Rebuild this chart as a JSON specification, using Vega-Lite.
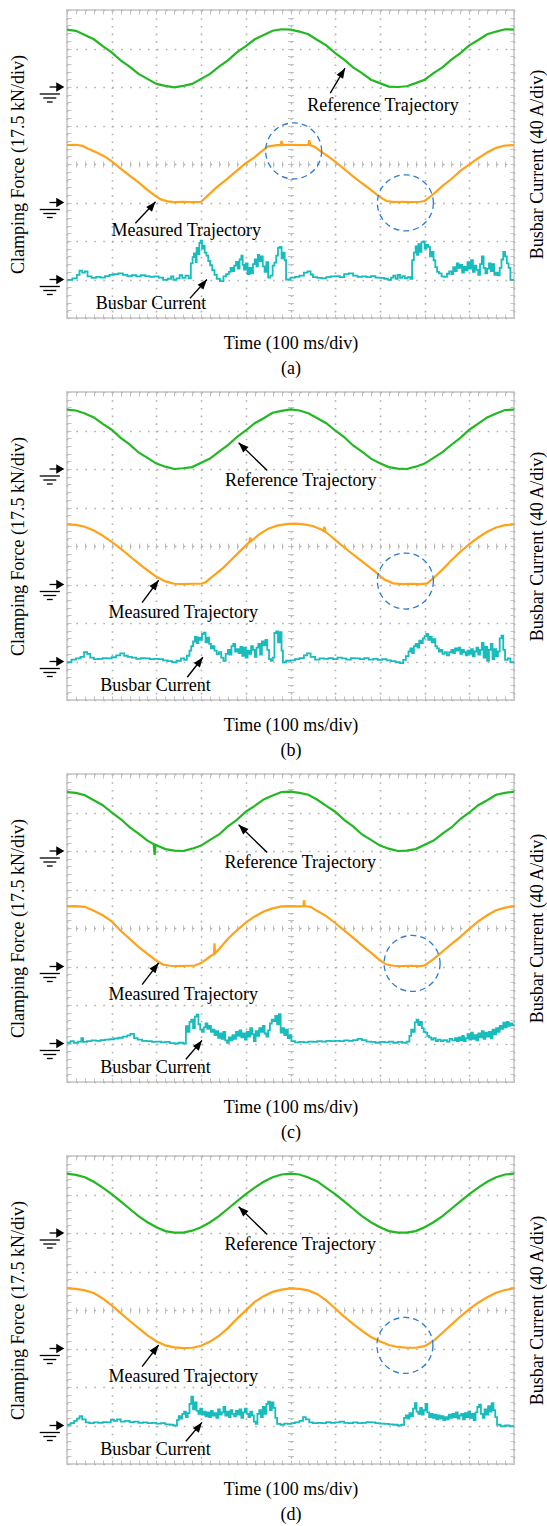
{
  "$schema": "https://vega.github.io/schema/vega-lite/v6.json",
  "padding": {"left": 8, "top": 9, "right": 0, "bottom": 0},
  "spacing": 74,
  "bounds": "flush",
  "config": {
    "font": "Liberation Serif",
    "view": {"stroke": "#d2d2d2", "strokeWidth": 2},
    "axis": {"minExtent": 0, "labels": false, "ticks": false, "domain": false, "titleFont": "Liberation Serif", "titleFontSize": 18, "titleFontWeight": "normal", "titleColor": "#000000"},
    "axisBottom": {"titleFont": "Liberation Serif", "titleFontWeight": "normal", "gridColor": "#b0b0b0", "gridWidth": 1.6, "gridDash": [1.6, 6.1], "titlePadding": 16, "titleLineHeight": 25},
    "axisLeft": {"titleFont": "Liberation Serif", "titleFontWeight": "normal", "gridColor": "#b0b0b0", "gridWidth": 1.6, "gridDash": [1.6, 7.34], "titlePadding": 40},
    "axisTop": {"gridColor": "#c2c2c2", "gridWidth": 1, "gridDash": [4, 147, 6, 147, 4]},
    "axisRight": {"titleFont": "Liberation Serif", "titleFontWeight": "normal", "gridColor": "#c2c2c2", "gridWidth": 1, "gridDash": [4, 216.5, 6, 216.5, 4], "titleAngle": -90, "titleBaseline": "top", "titlePadding": 14}
  },
  "datasets": {
    "gnd": [{"trace": "Reference Trajectory", "ground": 6}, {"trace": "Measured Trajectory", "ground": 3}, {"trace": "Busbar Current", "ground": 1}],
    "circ": [{"p": "a", "x": 5.07, "y": 4.34}, {"p": "a", "x": 7.57, "y": 2.99}, {"p": "b", "x": 7.57, "y": 3.09}, {"p": "c", "x": 7.72, "y": 3.08}, {"p": "d", "x": 7.56, "y": 3.08}],
    "ann": [
      {"p": "a", "label": "Reference Trajectory", "lx": 7.07, "ly": 5.38, "x": 5.89, "y": 5.84, "x2": 6.22, "y2": 6.49, "dir": "nne"},
      {"p": "a", "label": "Measured Trajectory", "lx": 2.67, "ly": 2.13, "x": 1.53, "y": 2.46, "x2": 1.98, "y2": 3.02, "dir": "ne"},
      {"p": "a", "label": "Busbar Current", "lx": 1.88, "ly": 0.23, "x": 2.75, "y": 0.51, "x2": 3.13, "y2": 1.0, "dir": "ne"},
      {"p": "b", "label": "Reference Trajectory", "lx": 5.23, "ly": 5.56, "x": 4.48, "y": 5.96, "x2": 3.84, "y2": 6.68, "dir": "nw"},
      {"p": "b", "label": "Measured Trajectory", "lx": 2.6, "ly": 2.14, "x": 1.68, "y": 2.53, "x2": 2.05, "y2": 3.11, "dir": "ne"},
      {"p": "b", "label": "Busbar Current", "lx": 1.98, "ly": 0.24, "x": 2.69, "y": 0.59, "x2": 3.04, "y2": 1.11, "dir": "ne"},
      {"p": "c", "label": "Reference Trajectory", "lx": 5.22, "ly": 5.56, "x": 4.48, "y": 5.96, "x2": 3.84, "y2": 6.68, "dir": "nw"},
      {"p": "c", "label": "Measured Trajectory", "lx": 2.6, "ly": 2.14, "x": 1.68, "y": 2.53, "x2": 2.05, "y2": 3.09, "dir": "ne"},
      {"p": "c", "label": "Busbar Current", "lx": 1.98, "ly": 0.24, "x": 2.66, "y": 0.59, "x2": 3.02, "y2": 1.08, "dir": "ne"},
      {"p": "d", "label": "Reference Trajectory", "lx": 5.22, "ly": 5.56, "x": 4.48, "y": 5.96, "x2": 3.84, "y2": 6.68, "dir": "nw"},
      {"p": "d", "label": "Measured Trajectory", "lx": 2.6, "ly": 2.14, "x": 1.68, "y": 2.53, "x2": 2.05, "y2": 3.09, "dir": "ne"},
      {"p": "d", "label": "Busbar Current", "lx": 1.98, "ly": 0.24, "x": 2.66, "y": 0.59, "x2": 3.02, "y2": 1.08, "dir": "ne"}
    ],
    "green_a": [{"x":0,"y":7.49},{"x":0.2,"y":7.46},{"x":0.4,"y":7.35},{"x":0.6,"y":7.24},{"x":0.8,"y":7.06},{"x":1.0,"y":6.90},{"x":1.2,"y":6.69},{"x":1.4,"y":6.53},{"x":1.6,"y":6.34},{"x":1.8,"y":6.21},{"x":2.0,"y":6.08},{"x":2.2,"y":6.03},{"x":2.4,"y":5.99},{"x":2.6,"y":6.03},{"x":2.8,"y":6.08},{"x":3.0,"y":6.21},{"x":3.2,"y":6.34},{"x":3.4,"y":6.53},{"x":3.6,"y":6.69},{"x":3.8,"y":6.90},{"x":4.0,"y":7.06},{"x":4.2,"y":7.24},{"x":4.4,"y":7.35},{"x":4.6,"y":7.46},{"x":4.8,"y":7.50},{"x":5.0,"y":7.49},{"x":5.2,"y":7.44},{"x":5.4,"y":7.37},{"x":5.6,"y":7.22},{"x":5.8,"y":7.08},{"x":6.0,"y":6.88},{"x":6.2,"y":6.71},{"x":6.4,"y":6.51},{"x":6.6,"y":6.36},{"x":6.8,"y":6.19},{"x":7.0,"y":6.10},{"x":7.2,"y":6.01},{"x":7.4,"y":6.00},{"x":7.6,"y":6.02},{"x":7.8,"y":6.10},{"x":8.0,"y":6.19},{"x":8.2,"y":6.36},{"x":8.4,"y":6.51},{"x":8.6,"y":6.71},{"x":8.8,"y":6.88},{"x":9.0,"y":7.08},{"x":9.2,"y":7.22},{"x":9.4,"y":7.37},{"x":9.6,"y":7.44},{"x":9.8,"y":7.50},{"x":10,"y":7.49}],
    "green_b": [{"x":0,"y":7.54},{"x":0.2,"y":7.52},{"x":0.4,"y":7.44},{"x":0.6,"y":7.34},{"x":0.8,"y":7.17},{"x":1.0,"y":7.02},{"x":1.2,"y":6.81},{"x":1.4,"y":6.64},{"x":1.6,"y":6.43},{"x":1.8,"y":6.29},{"x":2.0,"y":6.14},{"x":2.2,"y":6.06},{"x":2.4,"y":6.00},{"x":2.6,"y":6.02},{"x":2.8,"y":6.05},{"x":3.0,"y":6.16},{"x":3.2,"y":6.27},{"x":3.4,"y":6.45},{"x":3.6,"y":6.62},{"x":3.8,"y":6.83},{"x":4.0,"y":7.00},{"x":4.2,"y":7.19},{"x":4.4,"y":7.32},{"x":4.6,"y":7.46},{"x":4.8,"y":7.51},{"x":5.0,"y":7.55},{"x":5.2,"y":7.52},{"x":5.4,"y":7.45},{"x":5.6,"y":7.32},{"x":5.8,"y":7.19},{"x":6.0,"y":7.00},{"x":6.2,"y":6.83},{"x":6.4,"y":6.61},{"x":6.6,"y":6.45},{"x":6.8,"y":6.27},{"x":7.0,"y":6.15},{"x":7.2,"y":6.05},{"x":7.4,"y":6.01},{"x":7.6,"y":6.00},{"x":7.8,"y":6.06},{"x":8.0,"y":6.14},{"x":8.2,"y":6.29},{"x":8.4,"y":6.44},{"x":8.6,"y":6.63},{"x":8.8,"y":6.81},{"x":9.0,"y":7.02},{"x":9.2,"y":7.18},{"x":9.4,"y":7.34},{"x":9.6,"y":7.44},{"x":9.8,"y":7.53},{"x":10,"y":7.54}],
    "green_c": [{"x":0,"y":7.53},{"x":0.2,"y":7.51},{"x":0.4,"y":7.45},{"x":0.6,"y":7.32},{"x":0.8,"y":7.19},{"x":1.0,"y":7.00},{"x":1.2,"y":6.83},{"x":1.4,"y":6.62},{"x":1.6,"y":6.45},{"x":1.8,"y":6.27},{"x":1.94,"y":6.18},{"x":1.96,"y":5.90},{"x":1.98,"y":6.16},{"x":2.2,"y":6.05},{"x":2.4,"y":6.01},{"x":2.6,"y":6.00},{"x":2.8,"y":6.06},{"x":3.0,"y":6.14},{"x":3.2,"y":6.29},{"x":3.4,"y":6.43},{"x":3.6,"y":6.64},{"x":3.8,"y":6.81},{"x":4.0,"y":7.02},{"x":4.2,"y":7.17},{"x":4.4,"y":7.34},{"x":4.6,"y":7.44},{"x":4.8,"y":7.53},{"x":5.0,"y":7.54},{"x":5.2,"y":7.51},{"x":5.4,"y":7.46},{"x":5.6,"y":7.33},{"x":5.8,"y":7.17},{"x":6.0,"y":7.02},{"x":6.2,"y":6.81},{"x":6.4,"y":6.64},{"x":6.6,"y":6.43},{"x":6.8,"y":6.29},{"x":7.0,"y":6.14},{"x":7.2,"y":6.06},{"x":7.4,"y":6.00},{"x":7.6,"y":6.01},{"x":7.8,"y":6.05},{"x":8.0,"y":6.16},{"x":8.2,"y":6.27},{"x":8.4,"y":6.45},{"x":8.6,"y":6.61},{"x":8.8,"y":6.83},{"x":9.0,"y":7.00},{"x":9.2,"y":7.19},{"x":9.4,"y":7.32},{"x":9.6,"y":7.46},{"x":9.8,"y":7.51},{"x":10,"y":7.54}],
    "green_d": [{"x":0,"y":7.54},{"x":0.2,"y":7.51},{"x":0.4,"y":7.45},{"x":0.6,"y":7.33},{"x":0.8,"y":7.18},{"x":1.0,"y":7.01},{"x":1.2,"y":6.82},{"x":1.4,"y":6.63},{"x":1.6,"y":6.44},{"x":1.8,"y":6.28},{"x":2.0,"y":6.15},{"x":2.2,"y":6.05},{"x":2.4,"y":6.01},{"x":2.6,"y":6.01},{"x":2.8,"y":6.06},{"x":3.0,"y":6.15},{"x":3.2,"y":6.28},{"x":3.4,"y":6.44},{"x":3.6,"y":6.63},{"x":3.8,"y":6.82},{"x":4.0,"y":7.01},{"x":4.2,"y":7.18},{"x":4.4,"y":7.33},{"x":4.6,"y":7.45},{"x":4.8,"y":7.52},{"x":5.0,"y":7.54},{"x":5.2,"y":7.52},{"x":5.4,"y":7.44},{"x":5.6,"y":7.34},{"x":5.8,"y":7.17},{"x":6.0,"y":7.01},{"x":6.2,"y":6.82},{"x":6.4,"y":6.63},{"x":6.6,"y":6.44},{"x":6.8,"y":6.28},{"x":7.0,"y":6.15},{"x":7.2,"y":6.05},{"x":7.4,"y":6.01},{"x":7.6,"y":6.01},{"x":7.8,"y":6.05},{"x":8.0,"y":6.15},{"x":8.2,"y":6.28},{"x":8.4,"y":6.44},{"x":8.6,"y":6.63},{"x":8.8,"y":6.82},{"x":9.0,"y":7.01},{"x":9.2,"y":7.18},{"x":9.4,"y":7.33},{"x":9.6,"y":7.45},{"x":9.8,"y":7.52},{"x":10,"y":7.54}],
    "orange_a": [{"x":0,"y":4.49},{"x":0.2,"y":4.5},{"x":0.35,"y":4.47},{"x":0.5,"y":4.38},{"x":0.7,"y":4.28},{"x":0.85,"y":4.19},{"x":1.0,"y":4.07},{"x":1.2,"y":3.88},{"x":1.4,"y":3.7},{"x":1.6,"y":3.52},{"x":1.8,"y":3.33},{"x":1.95,"y":3.19},{"x":2.1,"y":3.08},{"x":2.25,"y":3.03},{"x":2.4,"y":3.01},{"x":2.6,"y":3.02},{"x":2.8,"y":3.01},{"x":3.0,"y":3.02},{"x":3.15,"y":3.18},{"x":3.35,"y":3.4},{"x":3.55,"y":3.58},{"x":3.8,"y":3.83},{"x":4.0,"y":4.02},{"x":4.2,"y":4.18},{"x":4.35,"y":4.33},{"x":4.5,"y":4.46},{"x":4.7,"y":4.49},{"x":4.78,"y":4.49},{"x":4.8,"y":4.6},{"x":4.82,"y":4.49},{"x":5.0,"y":4.5},{"x":5.2,"y":4.49},{"x":5.4,"y":4.5},{"x":5.42,"y":4.62},{"x":5.44,"y":4.49},{"x":5.55,"y":4.44},{"x":5.7,"y":4.31},{"x":5.85,"y":4.19},{"x":6.0,"y":4.06},{"x":6.2,"y":3.87},{"x":6.4,"y":3.68},{"x":6.6,"y":3.5},{"x":6.8,"y":3.33},{"x":7.0,"y":3.14},{"x":7.15,"y":3.04},{"x":7.3,"y":3.01},{"x":7.5,"y":3.02},{"x":7.7,"y":3.01},{"x":7.9,"y":3.02},{"x":8.0,"y":3.04},{"x":8.2,"y":3.22},{"x":8.4,"y":3.43},{"x":8.6,"y":3.61},{"x":8.8,"y":3.82},{"x":9.0,"y":3.99},{"x":9.2,"y":4.15},{"x":9.4,"y":4.3},{"x":9.6,"y":4.42},{"x":9.8,"y":4.48},{"x":10,"y":4.49}],
    "orange_b": [{"x":0,"y":4.56},{"x":0.2,"y":4.55},{"x":0.4,"y":4.5},{"x":0.6,"y":4.4},{"x":0.8,"y":4.27},{"x":1.0,"y":4.11},{"x":1.2,"y":3.93},{"x":1.4,"y":3.74},{"x":1.6,"y":3.55},{"x":1.8,"y":3.37},{"x":2.0,"y":3.2},{"x":2.2,"y":3.08},{"x":2.4,"y":3.02},{"x":2.6,"y":3.01},{"x":2.8,"y":3.02},{"x":3.0,"y":3.02},{"x":3.1,"y":3.06},{"x":3.3,"y":3.25},{"x":3.5,"y":3.44},{"x":3.7,"y":3.67},{"x":3.9,"y":3.9},{"x":4.08,"y":4.1},{"x":4.1,"y":4.22},{"x":4.12,"y":4.13},{"x":4.3,"y":4.3},{"x":4.5,"y":4.45},{"x":4.7,"y":4.53},{"x":4.9,"y":4.57},{"x":5.1,"y":4.58},{"x":5.3,"y":4.56},{"x":5.5,"y":4.52},{"x":5.7,"y":4.42},{"x":5.74,"y":4.39},{"x":5.76,"y":4.5},{"x":5.78,"y":4.37},{"x":5.9,"y":4.26},{"x":6.1,"y":4.06},{"x":6.3,"y":3.87},{"x":6.5,"y":3.69},{"x":6.7,"y":3.51},{"x":6.9,"y":3.33},{"x":7.1,"y":3.13},{"x":7.3,"y":3.03},{"x":7.5,"y":3.01},{"x":7.7,"y":3.02},{"x":7.9,"y":3.01},{"x":8.06,"y":3.03},{"x":8.2,"y":3.17},{"x":8.4,"y":3.39},{"x":8.6,"y":3.63},{"x":8.8,"y":3.85},{"x":9.0,"y":4.05},{"x":9.2,"y":4.22},{"x":9.4,"y":4.37},{"x":9.6,"y":4.48},{"x":9.8,"y":4.54},{"x":10,"y":4.56}],
    "orange_c": [{"x":0,"y":4.56},{"x":0.2,"y":4.57},{"x":0.4,"y":4.55},{"x":0.6,"y":4.45},{"x":0.8,"y":4.33},{"x":1.0,"y":4.17},{"x":1.2,"y":3.93},{"x":1.4,"y":3.72},{"x":1.6,"y":3.51},{"x":1.8,"y":3.33},{"x":2.0,"y":3.15},{"x":2.15,"y":3.05},{"x":2.3,"y":3.02},{"x":2.5,"y":3.01},{"x":2.7,"y":3.02},{"x":2.85,"y":3.02},{"x":3.0,"y":3.09},{"x":3.2,"y":3.26},{"x":3.29,"y":3.33},{"x":3.3,"y":3.6},{"x":3.31,"y":3.34},{"x":3.4,"y":3.45},{"x":3.6,"y":3.72},{"x":3.8,"y":3.94},{"x":4.0,"y":4.14},{"x":4.2,"y":4.3},{"x":4.4,"y":4.43},{"x":4.6,"y":4.51},{"x":4.8,"y":4.56},{"x":5.0,"y":4.57},{"x":5.2,"y":4.56},{"x":5.29,"y":4.57},{"x":5.3,"y":4.72},{"x":5.32,"y":4.57},{"x":5.45,"y":4.55},{"x":5.6,"y":4.44},{"x":5.8,"y":4.31},{"x":6.0,"y":4.13},{"x":6.2,"y":3.94},{"x":6.4,"y":3.75},{"x":6.6,"y":3.55},{"x":6.8,"y":3.36},{"x":7.0,"y":3.16},{"x":7.15,"y":3.05},{"x":7.3,"y":3.02},{"x":7.5,"y":3.01},{"x":7.7,"y":3.02},{"x":7.9,"y":3.01},{"x":8.0,"y":3.03},{"x":8.2,"y":3.19},{"x":8.4,"y":3.39},{"x":8.6,"y":3.58},{"x":8.8,"y":3.77},{"x":9.0,"y":3.98},{"x":9.2,"y":4.17},{"x":9.4,"y":4.33},{"x":9.6,"y":4.46},{"x":9.8,"y":4.53},{"x":10,"y":4.56}],
    "orange_d": [{"x":0,"y":4.56},{"x":0.2,"y":4.55},{"x":0.4,"y":4.51},{"x":0.6,"y":4.44},{"x":0.8,"y":4.3},{"x":1.0,"y":4.12},{"x":1.2,"y":3.92},{"x":1.4,"y":3.72},{"x":1.6,"y":3.53},{"x":1.8,"y":3.34},{"x":2.0,"y":3.19},{"x":2.2,"y":3.08},{"x":2.4,"y":3.03},{"x":2.6,"y":3.01},{"x":2.8,"y":3.02},{"x":3.0,"y":3.07},{"x":3.2,"y":3.18},{"x":3.4,"y":3.33},{"x":3.6,"y":3.53},{"x":3.8,"y":3.77},{"x":4.0,"y":3.99},{"x":4.2,"y":4.21},{"x":4.4,"y":4.36},{"x":4.6,"y":4.47},{"x":4.8,"y":4.53},{"x":5.0,"y":4.56},{"x":5.2,"y":4.55},{"x":5.4,"y":4.51},{"x":5.6,"y":4.41},{"x":5.8,"y":4.25},{"x":6.0,"y":4.04},{"x":6.2,"y":3.83},{"x":6.4,"y":3.64},{"x":6.6,"y":3.46},{"x":6.8,"y":3.3},{"x":7.0,"y":3.19},{"x":7.2,"y":3.09},{"x":7.4,"y":3.04},{"x":7.6,"y":3.02},{"x":7.8,"y":3.02},{"x":8.0,"y":3.06},{"x":8.2,"y":3.2},{"x":8.4,"y":3.41},{"x":8.6,"y":3.62},{"x":8.8,"y":3.83},{"x":9.0,"y":4.02},{"x":9.2,"y":4.19},{"x":9.4,"y":4.33},{"x":9.6,"y":4.45},{"x":9.8,"y":4.52},{"x":10,"y":4.56}],
    "cyan_a": [{"x":0,"y":0.99},{"x":0.12,"y":1.03},{"x":0.22,"y":1.12},{"x":0.28,"y":1.23},{"x":0.34,"y":1.18},{"x":0.4,"y":1.21},{"x":0.46,"y":1.08},{"x":0.55,"y":1.04},{"x":0.65,"y":1.07},{"x":0.75,"y":1.05},{"x":0.85,"y":1.09},{"x":0.95,"y":1.12},{"x":1.05,"y":1.14},{"x":1.15,"y":1.16},{"x":1.25,"y":1.12},{"x":1.35,"y":1.09},{"x":1.45,"y":1.11},{"x":1.55,"y":1.08},{"x":1.65,"y":1.11},{"x":1.75,"y":1.09},{"x":1.85,"y":1.07},{"x":1.95,"y":1.08},{"x":2.05,"y":1.05},{"x":2.15,"y":0.99},{"x":2.25,"y":1.02},{"x":2.33,"y":1.08},{"x":2.38,"y":0.99},{"x":2.45,"y":1.03},{"x":2.52,"y":1.11},{"x":2.58,"y":1.04},{"x":2.65,"y":1.1},{"x":2.72,"y":1.03},{"x":2.77,"y":1.42},{"x":2.81,"y":1.58},{"x":2.84,"y":1.68},{"x":2.88,"y":1.45},{"x":2.9,"y":1.82},{"x":2.93,"y":1.66},{"x":2.96,"y":1.95},{"x":2.99,"y":2.01},{"x":3.02,"y":1.8},{"x":3.05,"y":1.88},{"x":3.08,"y":1.7},{"x":3.12,"y":1.62},{"x":3.16,"y":1.48},{"x":3.2,"y":1.37},{"x":3.25,"y":1.24},{"x":3.3,"y":1.12},{"x":3.35,"y":1.02},{"x":3.42,"y":0.96},{"x":3.5,"y":1.08},{"x":3.56,"y":1.14},{"x":3.62,"y":1.2},{"x":3.66,"y":1.3},{"x":3.7,"y":1.22},{"x":3.74,"y":1.36},{"x":3.78,"y":1.46},{"x":3.82,"y":1.28},{"x":3.86,"y":1.52},{"x":3.9,"y":1.62},{"x":3.93,"y":1.38},{"x":3.96,"y":1.26},{"x":4.0,"y":1.42},{"x":4.04,"y":1.14},{"x":4.08,"y":1.3},{"x":4.12,"y":1.16},{"x":4.16,"y":1.4},{"x":4.2,"y":1.52},{"x":4.24,"y":1.34},{"x":4.27,"y":1.64},{"x":4.3,"y":1.48},{"x":4.34,"y":1.6},{"x":4.38,"y":1.34},{"x":4.42,"y":1.2},{"x":4.46,"y":1.45},{"x":4.5,"y":1.05},{"x":4.55,"y":1.1},{"x":4.6,"y":1.36},{"x":4.64,"y":1.44},{"x":4.68,"y":1.62},{"x":4.72,"y":1.82},{"x":4.76,"y":1.85},{"x":4.8,"y":1.55},{"x":4.84,"y":1.7},{"x":4.87,"y":1.5},{"x":4.9,"y":1.0},{"x":5.0,"y":1.05},{"x":5.1,"y":1.07},{"x":5.2,"y":1.1},{"x":5.3,"y":1.18},{"x":5.38,"y":1.21},{"x":5.45,"y":1.13},{"x":5.5,"y":1.06},{"x":5.6,"y":1.04},{"x":5.7,"y":1.03},{"x":5.8,"y":1.06},{"x":5.9,"y":1.08},{"x":6.0,"y":1.09},{"x":6.1,"y":1.06},{"x":6.2,"y":1.14},{"x":6.3,"y":1.16},{"x":6.4,"y":1.1},{"x":6.5,"y":1.07},{"x":6.6,"y":1.08},{"x":6.7,"y":1.06},{"x":6.8,"y":1.09},{"x":6.9,"y":1.05},{"x":7.0,"y":1.04},{"x":7.1,"y":1.02},{"x":7.18,"y":0.99},{"x":7.25,"y":1.05},{"x":7.3,"y":1.1},{"x":7.35,"y":1.02},{"x":7.4,"y":1.12},{"x":7.45,"y":1.04},{"x":7.5,"y":1.09},{"x":7.56,"y":1.03},{"x":7.62,"y":1.06},{"x":7.68,"y":1.02},{"x":7.72,"y":1.5},{"x":7.76,"y":1.7},{"x":7.8,"y":1.86},{"x":7.83,"y":1.64},{"x":7.86,"y":1.92},{"x":7.9,"y":1.72},{"x":7.93,"y":1.97},{"x":7.97,"y":1.99},{"x":8.0,"y":1.8},{"x":8.04,"y":1.9},{"x":8.08,"y":1.85},{"x":8.12,"y":1.6},{"x":8.16,"y":1.72},{"x":8.2,"y":1.5},{"x":8.24,"y":1.32},{"x":8.28,"y":1.2},{"x":8.32,"y":1.16},{"x":8.38,"y":1.08},{"x":8.44,"y":1.07},{"x":8.5,"y":1.15},{"x":8.55,"y":1.21},{"x":8.6,"y":1.14},{"x":8.64,"y":1.32},{"x":8.68,"y":1.22},{"x":8.72,"y":1.42},{"x":8.76,"y":1.3},{"x":8.8,"y":1.38},{"x":8.84,"y":1.18},{"x":8.88,"y":1.33},{"x":8.92,"y":1.24},{"x":8.96,"y":1.45},{"x":9.0,"y":1.28},{"x":9.04,"y":1.5},{"x":9.08,"y":1.2},{"x":9.12,"y":1.36},{"x":9.16,"y":1.25},{"x":9.2,"y":1.12},{"x":9.24,"y":1.4},{"x":9.28,"y":1.6},{"x":9.32,"y":1.3},{"x":9.36,"y":1.16},{"x":9.4,"y":1.28},{"x":9.44,"y":1.42},{"x":9.48,"y":1.22},{"x":9.52,"y":1.4},{"x":9.56,"y":1.12},{"x":9.6,"y":1.18},{"x":9.64,"y":1.11},{"x":9.68,"y":1.3},{"x":9.72,"y":1.52},{"x":9.76,"y":1.72},{"x":9.8,"y":1.6},{"x":9.84,"y":1.42},{"x":9.88,"y":1.3},{"x":9.92,"y":0.99},{"x":10,"y":0.99}],
    "cyan_b": [{"x":0,"y":0.98},{"x":0.1,"y":1.05},{"x":0.2,"y":1.08},{"x":0.3,"y":1.12},{"x":0.38,"y":1.24},{"x":0.45,"y":1.2},{"x":0.52,"y":1.1},{"x":0.6,"y":1.06},{"x":0.7,"y":1.07},{"x":0.8,"y":1.09},{"x":0.9,"y":1.08},{"x":1.0,"y":1.11},{"x":1.1,"y":1.16},{"x":1.19,"y":1.21},{"x":1.28,"y":1.15},{"x":1.36,"y":1.12},{"x":1.45,"y":1.1},{"x":1.55,"y":1.07},{"x":1.65,"y":1.09},{"x":1.75,"y":1.08},{"x":1.85,"y":1.06},{"x":1.95,"y":1.07},{"x":2.05,"y":1.06},{"x":2.15,"y":1.03},{"x":2.25,"y":1.01},{"x":2.35,"y":0.98},{"x":2.45,"y":1.02},{"x":2.55,"y":1.08},{"x":2.62,"y":1.04},{"x":2.68,"y":1.15},{"x":2.74,"y":1.28},{"x":2.78,"y":1.4},{"x":2.82,"y":1.52},{"x":2.86,"y":1.64},{"x":2.9,"y":1.48},{"x":2.94,"y":1.62},{"x":2.98,"y":1.56},{"x":3.02,"y":1.72},{"x":3.06,"y":1.75},{"x":3.1,"y":1.5},{"x":3.14,"y":1.62},{"x":3.18,"y":1.46},{"x":3.22,"y":1.34},{"x":3.26,"y":1.4},{"x":3.3,"y":1.28},{"x":3.35,"y":1.19},{"x":3.4,"y":1.24},{"x":3.45,"y":1.1},{"x":3.5,"y":1.02},{"x":3.55,"y":1.2},{"x":3.6,"y":1.3},{"x":3.64,"y":1.18},{"x":3.68,"y":1.4},{"x":3.72,"y":1.46},{"x":3.76,"y":1.26},{"x":3.8,"y":1.32},{"x":3.84,"y":1.22},{"x":3.88,"y":1.38},{"x":3.92,"y":1.15},{"x":3.96,"y":1.36},{"x":4.0,"y":1.1},{"x":4.04,"y":1.28},{"x":4.08,"y":1.2},{"x":4.12,"y":1.4},{"x":4.16,"y":1.3},{"x":4.2,"y":1.12},{"x":4.24,"y":1.36},{"x":4.28,"y":1.46},{"x":4.32,"y":1.18},{"x":4.36,"y":1.52},{"x":4.4,"y":1.42},{"x":4.44,"y":1.56},{"x":4.48,"y":1.3},{"x":4.52,"y":1.06},{"x":4.56,"y":1.02},{"x":4.6,"y":1.1},{"x":4.64,"y":1.74},{"x":4.68,"y":1.78},{"x":4.72,"y":1.5},{"x":4.76,"y":1.76},{"x":4.8,"y":1.28},{"x":4.83,"y":0.98},{"x":4.9,"y":1.02},{"x":5.0,"y":1.03},{"x":5.1,"y":1.06},{"x":5.2,"y":1.09},{"x":5.3,"y":1.16},{"x":5.37,"y":1.21},{"x":5.45,"y":1.12},{"x":5.55,"y":1.05},{"x":5.65,"y":1.08},{"x":5.75,"y":1.07},{"x":5.85,"y":1.09},{"x":5.95,"y":1.06},{"x":6.05,"y":1.1},{"x":6.15,"y":1.08},{"x":6.25,"y":1.05},{"x":6.35,"y":1.09},{"x":6.45,"y":1.08},{"x":6.55,"y":1.06},{"x":6.65,"y":1.09},{"x":6.75,"y":1.05},{"x":6.85,"y":1.07},{"x":6.95,"y":1.04},{"x":7.05,"y":1.06},{"x":7.15,"y":1.03},{"x":7.25,"y":1.01},{"x":7.35,"y":0.98},{"x":7.45,"y":0.96},{"x":7.52,"y":1.04},{"x":7.58,"y":1.14},{"x":7.64,"y":1.26},{"x":7.68,"y":1.34},{"x":7.72,"y":1.22},{"x":7.76,"y":1.4},{"x":7.8,"y":1.46},{"x":7.84,"y":1.36},{"x":7.88,"y":1.54},{"x":7.92,"y":1.48},{"x":7.96,"y":1.6},{"x":8.0,"y":1.66},{"x":8.04,"y":1.72},{"x":8.08,"y":1.56},{"x":8.12,"y":1.64},{"x":8.16,"y":1.5},{"x":8.2,"y":1.58},{"x":8.24,"y":1.4},{"x":8.28,"y":1.34},{"x":8.32,"y":1.26},{"x":8.36,"y":1.3},{"x":8.4,"y":1.2},{"x":8.45,"y":1.24},{"x":8.5,"y":1.16},{"x":8.55,"y":1.24},{"x":8.6,"y":1.3},{"x":8.64,"y":1.22},{"x":8.68,"y":1.34},{"x":8.72,"y":1.28},{"x":8.76,"y":1.36},{"x":8.8,"y":1.2},{"x":8.84,"y":1.3},{"x":8.88,"y":1.24},{"x":8.92,"y":1.16},{"x":8.96,"y":1.28},{"x":9.0,"y":1.2},{"x":9.04,"y":1.32},{"x":9.08,"y":1.14},{"x":9.12,"y":1.26},{"x":9.16,"y":1.36},{"x":9.2,"y":1.18},{"x":9.24,"y":1.3},{"x":9.28,"y":1.48},{"x":9.32,"y":1.1},{"x":9.36,"y":1.38},{"x":9.4,"y":1.02},{"x":9.44,"y":1.3},{"x":9.48,"y":1.46},{"x":9.52,"y":1.06},{"x":9.56,"y":1.32},{"x":9.6,"y":1.14},{"x":9.64,"y":1.26},{"x":9.68,"y":1.6},{"x":9.72,"y":1.67},{"x":9.76,"y":1.3},{"x":9.8,"y":1.04},{"x":9.86,"y":1.08},{"x":9.92,"y":0.98},{"x":10,"y":0.98}],
    "cyan_c": [{"x":0,"y":1.02},{"x":0.08,"y":1.06},{"x":0.15,"y":1.02},{"x":0.25,"y":1.05},{"x":0.32,"y":1.14},{"x":0.36,"y":1.04},{"x":0.45,"y":1.06},{"x":0.55,"y":1.08},{"x":0.65,"y":1.07},{"x":0.75,"y":1.09},{"x":0.85,"y":1.1},{"x":0.95,"y":1.11},{"x":1.05,"y":1.13},{"x":1.15,"y":1.15},{"x":1.25,"y":1.18},{"x":1.35,"y":1.21},{"x":1.42,"y":1.25},{"x":1.5,"y":1.14},{"x":1.58,"y":1.1},{"x":1.68,"y":1.07},{"x":1.78,"y":1.06},{"x":1.9,"y":1.04},{"x":2.0,"y":1.05},{"x":2.1,"y":1.03},{"x":2.2,"y":1.04},{"x":2.3,"y":1.01},{"x":2.4,"y":1.0},{"x":2.5,"y":1.02},{"x":2.6,"y":1.0},{"x":2.66,"y":1.45},{"x":2.7,"y":1.3},{"x":2.74,"y":1.56},{"x":2.78,"y":1.62},{"x":2.82,"y":1.4},{"x":2.86,"y":1.7},{"x":2.9,"y":1.75},{"x":2.94,"y":1.5},{"x":2.98,"y":1.36},{"x":3.02,"y":1.3},{"x":3.06,"y":1.42},{"x":3.1,"y":1.52},{"x":3.14,"y":1.38},{"x":3.18,"y":1.46},{"x":3.22,"y":1.3},{"x":3.26,"y":1.36},{"x":3.3,"y":1.22},{"x":3.34,"y":1.32},{"x":3.38,"y":1.15},{"x":3.42,"y":1.26},{"x":3.46,"y":1.12},{"x":3.5,"y":1.3},{"x":3.54,"y":1.08},{"x":3.58,"y":1.02},{"x":3.62,"y":1.16},{"x":3.66,"y":1.08},{"x":3.7,"y":1.22},{"x":3.74,"y":1.12},{"x":3.78,"y":1.3},{"x":3.82,"y":1.2},{"x":3.86,"y":1.34},{"x":3.9,"y":1.16},{"x":3.94,"y":1.26},{"x":3.98,"y":1.1},{"x":4.02,"y":1.3},{"x":4.06,"y":1.18},{"x":4.1,"y":1.4},{"x":4.14,"y":1.24},{"x":4.18,"y":1.06},{"x":4.22,"y":1.32},{"x":4.26,"y":1.2},{"x":4.3,"y":1.4},{"x":4.34,"y":1.3},{"x":4.38,"y":1.46},{"x":4.42,"y":1.26},{"x":4.46,"y":1.18},{"x":4.5,"y":1.34},{"x":4.54,"y":1.52},{"x":4.58,"y":1.62},{"x":4.62,"y":1.58},{"x":4.66,"y":1.72},{"x":4.7,"y":1.5},{"x":4.74,"y":1.76},{"x":4.78,"y":1.28},{"x":4.82,"y":1.4},{"x":4.86,"y":1.22},{"x":4.9,"y":1.36},{"x":4.94,"y":1.14},{"x":4.98,"y":1.22},{"x":5.02,"y":1.06},{"x":5.1,"y":1.03},{"x":5.2,"y":1.04},{"x":5.3,"y":1.03},{"x":5.4,"y":1.05},{"x":5.5,"y":1.04},{"x":5.6,"y":1.06},{"x":5.7,"y":1.05},{"x":5.8,"y":1.07},{"x":5.9,"y":1.06},{"x":6.0,"y":1.07},{"x":6.1,"y":1.06},{"x":6.2,"y":1.08},{"x":6.3,"y":1.07},{"x":6.4,"y":1.09},{"x":6.5,"y":1.12},{"x":6.6,"y":1.09},{"x":6.7,"y":1.05},{"x":6.8,"y":1.04},{"x":6.9,"y":1.02},{"x":7.0,"y":1.04},{"x":7.1,"y":1.03},{"x":7.2,"y":1.05},{"x":7.3,"y":1.02},{"x":7.4,"y":1.04},{"x":7.5,"y":1.02},{"x":7.6,"y":1.05},{"x":7.66,"y":1.2},{"x":7.7,"y":1.36},{"x":7.74,"y":1.3},{"x":7.78,"y":1.55},{"x":7.82,"y":1.62},{"x":7.86,"y":1.48},{"x":7.9,"y":1.56},{"x":7.94,"y":1.4},{"x":7.98,"y":1.3},{"x":8.02,"y":1.28},{"x":8.06,"y":1.2},{"x":8.1,"y":1.16},{"x":8.15,"y":1.1},{"x":8.2,"y":1.14},{"x":8.25,"y":1.06},{"x":8.3,"y":1.1},{"x":8.36,"y":1.06},{"x":8.42,"y":1.09},{"x":8.5,"y":1.05},{"x":8.56,"y":1.12},{"x":8.62,"y":1.08},{"x":8.68,"y":1.14},{"x":8.72,"y":1.06},{"x":8.76,"y":1.16},{"x":8.8,"y":1.08},{"x":8.84,"y":1.2},{"x":8.88,"y":1.06},{"x":8.92,"y":1.14},{"x":8.96,"y":1.24},{"x":9.0,"y":1.1},{"x":9.04,"y":1.28},{"x":9.08,"y":1.12},{"x":9.12,"y":1.22},{"x":9.16,"y":1.08},{"x":9.2,"y":1.26},{"x":9.24,"y":1.16},{"x":9.28,"y":1.32},{"x":9.32,"y":1.12},{"x":9.36,"y":1.28},{"x":9.4,"y":1.18},{"x":9.44,"y":1.3},{"x":9.48,"y":1.14},{"x":9.52,"y":1.36},{"x":9.56,"y":1.24},{"x":9.6,"y":1.4},{"x":9.64,"y":1.3},{"x":9.68,"y":1.46},{"x":9.72,"y":1.38},{"x":9.76,"y":1.54},{"x":9.8,"y":1.42},{"x":9.84,"y":1.56},{"x":9.88,"y":1.46},{"x":9.92,"y":1.52},{"x":9.96,"y":1.48},{"x":10,"y":1.49}],
    "cyan_d": [{"x":0,"y":1.02},{"x":0.08,"y":1.06},{"x":0.16,"y":1.12},{"x":0.22,"y":1.18},{"x":0.28,"y":1.24},{"x":0.34,"y":1.16},{"x":0.42,"y":1.08},{"x":0.5,"y":1.06},{"x":0.6,"y":1.08},{"x":0.7,"y":1.07},{"x":0.8,"y":1.09},{"x":0.9,"y":1.08},{"x":0.98,"y":1.15},{"x":1.05,"y":1.12},{"x":1.12,"y":1.16},{"x":1.2,"y":1.1},{"x":1.3,"y":1.12},{"x":1.4,"y":1.09},{"x":1.5,"y":1.1},{"x":1.6,"y":1.07},{"x":1.7,"y":1.08},{"x":1.8,"y":1.06},{"x":1.9,"y":1.07},{"x":2.0,"y":1.05},{"x":2.1,"y":1.06},{"x":2.2,"y":1.03},{"x":2.3,"y":1.02},{"x":2.38,"y":1.0},{"x":2.46,"y":1.14},{"x":2.5,"y":1.24},{"x":2.54,"y":1.18},{"x":2.58,"y":1.3},{"x":2.62,"y":1.36},{"x":2.66,"y":1.22},{"x":2.7,"y":1.32},{"x":2.74,"y":1.56},{"x":2.78,"y":1.75},{"x":2.82,"y":1.42},{"x":2.86,"y":1.6},{"x":2.9,"y":1.38},{"x":2.94,"y":1.3},{"x":2.98,"y":1.44},{"x":3.02,"y":1.28},{"x":3.06,"y":1.36},{"x":3.1,"y":1.24},{"x":3.14,"y":1.34},{"x":3.18,"y":1.22},{"x":3.22,"y":1.38},{"x":3.26,"y":1.26},{"x":3.3,"y":1.32},{"x":3.34,"y":1.2},{"x":3.38,"y":1.42},{"x":3.42,"y":1.28},{"x":3.46,"y":1.34},{"x":3.5,"y":1.48},{"x":3.54,"y":1.26},{"x":3.58,"y":1.36},{"x":3.62,"y":1.22},{"x":3.66,"y":1.4},{"x":3.7,"y":1.3},{"x":3.74,"y":1.24},{"x":3.78,"y":1.38},{"x":3.82,"y":1.28},{"x":3.86,"y":1.42},{"x":3.9,"y":1.2},{"x":3.94,"y":1.34},{"x":3.98,"y":1.44},{"x":4.02,"y":1.3},{"x":4.06,"y":1.22},{"x":4.1,"y":1.36},{"x":4.14,"y":1.26},{"x":4.18,"y":1.1},{"x":4.22,"y":1.04},{"x":4.26,"y":1.3},{"x":4.3,"y":1.4},{"x":4.34,"y":1.22},{"x":4.38,"y":1.48},{"x":4.42,"y":1.3},{"x":4.46,"y":1.56},{"x":4.5,"y":1.62},{"x":4.54,"y":1.4},{"x":4.58,"y":1.6},{"x":4.62,"y":1.46},{"x":4.66,"y":1.2},{"x":4.7,"y":1.04},{"x":4.78,"y":1.02},{"x":4.86,"y":1.05},{"x":4.94,"y":1.04},{"x":5.02,"y":1.06},{"x":5.1,"y":1.08},{"x":5.2,"y":1.12},{"x":5.28,"y":1.22},{"x":5.34,"y":1.16},{"x":5.42,"y":1.08},{"x":5.5,"y":1.06},{"x":5.6,"y":1.07},{"x":5.7,"y":1.06},{"x":5.8,"y":1.09},{"x":5.9,"y":1.07},{"x":6.0,"y":1.08},{"x":6.1,"y":1.1},{"x":6.2,"y":1.07},{"x":6.3,"y":1.06},{"x":6.4,"y":1.08},{"x":6.5,"y":1.06},{"x":6.6,"y":1.07},{"x":6.7,"y":1.09},{"x":6.8,"y":1.08},{"x":6.9,"y":1.06},{"x":7.0,"y":1.05},{"x":7.1,"y":1.04},{"x":7.2,"y":1.03},{"x":7.3,"y":1.02},{"x":7.4,"y":1.0},{"x":7.48,"y":1.02},{"x":7.54,"y":1.2},{"x":7.58,"y":1.26},{"x":7.62,"y":1.18},{"x":7.66,"y":1.32},{"x":7.7,"y":1.24},{"x":7.74,"y":1.44},{"x":7.78,"y":1.58},{"x":7.82,"y":1.36},{"x":7.86,"y":1.3},{"x":7.9,"y":1.46},{"x":7.94,"y":1.28},{"x":7.98,"y":1.4},{"x":8.02,"y":1.56},{"x":8.06,"y":1.34},{"x":8.1,"y":1.22},{"x":8.14,"y":1.3},{"x":8.18,"y":1.2},{"x":8.22,"y":1.28},{"x":8.26,"y":1.16},{"x":8.3,"y":1.26},{"x":8.34,"y":1.18},{"x":8.38,"y":1.24},{"x":8.42,"y":1.14},{"x":8.46,"y":1.22},{"x":8.5,"y":1.16},{"x":8.54,"y":1.28},{"x":8.58,"y":1.2},{"x":8.62,"y":1.3},{"x":8.66,"y":1.22},{"x":8.7,"y":1.34},{"x":8.74,"y":1.18},{"x":8.78,"y":1.26},{"x":8.82,"y":1.3},{"x":8.86,"y":1.16},{"x":8.9,"y":1.32},{"x":8.94,"y":1.22},{"x":8.98,"y":1.36},{"x":9.02,"y":1.2},{"x":9.06,"y":1.3},{"x":9.1,"y":1.14},{"x":9.14,"y":1.34},{"x":9.18,"y":1.48},{"x":9.22,"y":1.54},{"x":9.26,"y":1.3},{"x":9.3,"y":1.2},{"x":9.34,"y":1.42},{"x":9.38,"y":1.28},{"x":9.42,"y":1.5},{"x":9.46,"y":1.36},{"x":9.5,"y":1.58},{"x":9.54,"y":1.4},{"x":9.58,"y":1.22},{"x":9.62,"y":1.02},{"x":9.7,"y":0.98},{"x":9.8,"y":1.0},{"x":9.9,"y":0.98},{"x":10,"y":0.98}]
  },
  "vconcat": [
    {
      "width": 447, "height": 308,
      "layer": [
        {"data": {"name": "green_a"}, "mark": {"type": "line", "color": "#22b822", "strokeWidth": 2.2},
         "encoding": {"x": {"field": "x", "type": "quantitative", "scale": {"domain": [0, 10], "nice": false, "zero": false}, "axis": {"orient": "bottom", "values": [0,1,2,3,4,5,6,7,8,9,10], "grid": true, "titleFont": "Liberation Serif", "title": ["Time (100 ms/div)", "(a)"]}},
                      "y": {"field": "y", "type": "quantitative", "scale": {"domain": [0, 8], "nice": false, "zero": false}, "axis": {"orient": "left", "values": [0,1,2,3,4,5,6,7,8], "grid": true, "titleFont": "Liberation Serif", "title": "Clamping Force (17.5 kN/div)"}}}},
        {"data": {"name": "orange_a"}, "mark": {"type": "line", "color": "#ffa21a", "strokeWidth": 2.2},
         "encoding": {"x": {"field": "x", "type": "quantitative", "axis": null}, "y": {"field": "y", "type": "quantitative", "axis": null}}},
        {"data": {"name": "cyan_a"}, "mark": {"type": "line", "color": "#17bcbc", "strokeWidth": 1.8, "interpolate": "step-after"},
         "encoding": {"x": {"field": "x", "type": "quantitative", "axis": {"orient": "top", "values": [0,0.2,0.4,0.6,0.8,1,1.2,1.4,1.6,1.8,2,2.2,2.4,2.6,2.8,3,3.2,3.4,3.6,3.8,4,4.2,4.4,4.6,4.8,5,5.2,5.4,5.6,5.8,6,6.2,6.4,6.6,6.8,7,7.2,7.4,7.6,7.8,8,8.2,8.4,8.6,8.8,9,9.2,9.4,9.6,9.8,10], "grid": true, "title": null}},
                      "y": {"field": "y", "type": "quantitative", "axis": {"orient": "right", "values": [0,0.2,0.4,0.6,0.8,1,1.2,1.4,1.6,1.8,2,2.2,2.4,2.6,2.8,3,3.2,3.4,3.6,3.8,4,4.2,4.4,4.6,4.8,5,5.2,5.4,5.6,5.8,6,6.2,6.4,6.6,6.8,7,7.2,7.4,7.6,7.8,8], "grid": true, "titleFont": "Liberation Serif", "title": "Busbar Current (40 A/div)"}}}},
        {"data": {"name": "circ"}, "transform": [{"filter": "datum.p == 'a'"}], "mark": {"type": "point", "shape": "circle", "filled": false, "color": "#2a7dd1", "strokeWidth": 1.3, "strokeDash": [6, 4], "size": 3136, "opacity": 1},
         "encoding": {"x": {"field": "x", "type": "quantitative", "axis": null}, "y": {"field": "y", "type": "quantitative", "axis": null}}},
        {"data": {"name": "ann"}, "transform": [{"filter": "datum.p == 'a'"}], "mark": {"type": "rule", "color": "#000000", "strokeWidth": 1.4},
         "encoding": {"x": {"field": "x", "type": "quantitative", "axis": null}, "y": {"field": "y", "type": "quantitative", "axis": null}, "x2": {"field": "x2"}, "y2": {"field": "y2"}}},
        {"data": {"name": "ann"}, "transform": [{"filter": "datum.p == 'a' && datum.dir == 'ne'"}], "mark": {"type": "point", "shape": "M0,0L0.38,1L-0.38,1Z", "filled": true, "color": "#000000", "opacity": 1, "size": 400, "strokeWidth": 0, "angle": 40},
         "encoding": {"x": {"field": "x2", "type": "quantitative", "axis": null}, "y": {"field": "y2", "type": "quantitative", "axis": null}}},
        {"data": {"name": "ann"}, "transform": [{"filter": "datum.p == 'a' && datum.dir == 'nne'"}], "mark": {"type": "point", "shape": "M0,0L0.38,1L-0.38,1Z", "filled": true, "color": "#000000", "opacity": 1, "size": 400, "strokeWidth": 0, "angle": 31},
         "encoding": {"x": {"field": "x2", "type": "quantitative", "axis": null}, "y": {"field": "y2", "type": "quantitative", "axis": null}}},
        {"data": {"name": "ann"}, "transform": [{"filter": "datum.p == 'a'"}], "mark": {"type": "text", "font": "Liberation Serif", "fontSize": 18, "align": "center", "baseline": "alphabetic", "color": "#000000"},
         "encoding": {"x": {"field": "lx", "type": "quantitative", "axis": null}, "y": {"field": "ly", "type": "quantitative", "axis": null}, "text": {"field": "label"}}},
        {"data": {"name": "gnd"}, "mark": {"type": "rule", "color": "#000000", "strokeWidth": 1.3},
         "encoding": {"x": {"datum": -0.39, "type": "quantitative", "axis": null}, "x2": {"datum": -0.17}, "y": {"field": "ground", "type": "quantitative", "axis": null}}},
        {"data": {"name": "gnd"}, "mark": {"type": "point", "shape": "M0,0L-1,-0.6L-1,0.6Z", "filled": true, "color": "#000000", "opacity": 1, "size": 260, "strokeWidth": 0},
         "encoding": {"x": {"datum": -0.06, "type": "quantitative", "axis": null}, "y": {"field": "ground", "type": "quantitative", "axis": null}}},
        {"data": {"name": "gnd"}, "mark": {"type": "rule", "color": "#000000", "strokeWidth": 1.3},
         "encoding": {"x": {"datum": -0.39, "type": "quantitative", "axis": null}, "y": {"field": "ground", "type": "quantitative", "axis": null}, "y2": {"field": "ground"}, "y2Offset": {"value": 7}}},
        {"data": {"name": "gnd"}, "mark": {"type": "rule", "color": "#000000", "strokeWidth": 1.3},
         "encoding": {"x": {"datum": -0.61, "type": "quantitative", "axis": null}, "x2": {"datum": -0.16}, "y": {"field": "ground", "type": "quantitative", "axis": null}, "yOffset": {"value": 7}}},
        {"data": {"name": "gnd"}, "mark": {"type": "rule", "color": "#000000", "strokeWidth": 1.3},
         "encoding": {"x": {"datum": -0.53, "type": "quantitative", "axis": null}, "x2": {"datum": -0.24}, "y": {"field": "ground", "type": "quantitative", "axis": null}, "yOffset": {"value": 11}}},
        {"data": {"name": "gnd"}, "mark": {"type": "rule", "color": "#000000", "strokeWidth": 1.3},
         "encoding": {"x": {"datum": -0.45, "type": "quantitative", "axis": null}, "x2": {"datum": -0.32}, "y": {"field": "ground", "type": "quantitative", "axis": null}, "yOffset": {"value": 15}}}
      ]
    },
    {
      "width": 447, "height": 308,
      "layer": [
        {"data": {"name": "green_b"}, "mark": {"type": "line", "color": "#22b822", "strokeWidth": 2.2},
         "encoding": {"x": {"field": "x", "type": "quantitative", "scale": {"domain": [0, 10], "nice": false, "zero": false}, "axis": {"orient": "bottom", "values": [0,1,2,3,4,5,6,7,8,9,10], "grid": true, "titleFont": "Liberation Serif", "title": ["Time (100 ms/div)", "(b)"]}},
                      "y": {"field": "y", "type": "quantitative", "scale": {"domain": [0, 8], "nice": false, "zero": false}, "axis": {"orient": "left", "values": [0,1,2,3,4,5,6,7,8], "grid": true, "titleFont": "Liberation Serif", "title": "Clamping Force (17.5 kN/div)"}}}},
        {"data": {"name": "orange_b"}, "mark": {"type": "line", "color": "#ffa21a", "strokeWidth": 2.2},
         "encoding": {"x": {"field": "x", "type": "quantitative", "axis": null}, "y": {"field": "y", "type": "quantitative", "axis": null}}},
        {"data": {"name": "cyan_b"}, "mark": {"type": "line", "color": "#17bcbc", "strokeWidth": 1.8, "interpolate": "step-after"},
         "encoding": {"x": {"field": "x", "type": "quantitative", "axis": {"orient": "top", "values": [0,0.2,0.4,0.6,0.8,1,1.2,1.4,1.6,1.8,2,2.2,2.4,2.6,2.8,3,3.2,3.4,3.6,3.8,4,4.2,4.4,4.6,4.8,5,5.2,5.4,5.6,5.8,6,6.2,6.4,6.6,6.8,7,7.2,7.4,7.6,7.8,8,8.2,8.4,8.6,8.8,9,9.2,9.4,9.6,9.8,10], "grid": true, "title": null}},
                      "y": {"field": "y", "type": "quantitative", "axis": {"orient": "right", "values": [0,0.2,0.4,0.6,0.8,1,1.2,1.4,1.6,1.8,2,2.2,2.4,2.6,2.8,3,3.2,3.4,3.6,3.8,4,4.2,4.4,4.6,4.8,5,5.2,5.4,5.6,5.8,6,6.2,6.4,6.6,6.8,7,7.2,7.4,7.6,7.8,8], "grid": true, "titleFont": "Liberation Serif", "title": "Busbar Current (40 A/div)"}}}},
        {"data": {"name": "circ"}, "transform": [{"filter": "datum.p == 'b'"}], "mark": {"type": "point", "shape": "circle", "filled": false, "color": "#2a7dd1", "strokeWidth": 1.3, "strokeDash": [6, 4], "size": 3136, "opacity": 1},
         "encoding": {"x": {"field": "x", "type": "quantitative", "axis": null}, "y": {"field": "y", "type": "quantitative", "axis": null}}},
        {"data": {"name": "ann"}, "transform": [{"filter": "datum.p == 'b'"}], "mark": {"type": "rule", "color": "#000000", "strokeWidth": 1.4},
         "encoding": {"x": {"field": "x", "type": "quantitative", "axis": null}, "y": {"field": "y", "type": "quantitative", "axis": null}, "x2": {"field": "x2"}, "y2": {"field": "y2"}}},
        {"data": {"name": "ann"}, "transform": [{"filter": "datum.p == 'b' && datum.dir == 'ne'"}], "mark": {"type": "point", "shape": "M0,0L0.38,1L-0.38,1Z", "filled": true, "color": "#000000", "opacity": 1, "size": 400, "strokeWidth": 0, "angle": 37},
         "encoding": {"x": {"field": "x2", "type": "quantitative", "axis": null}, "y": {"field": "y2", "type": "quantitative", "axis": null}}},
        {"data": {"name": "ann"}, "transform": [{"filter": "datum.p == 'b' && datum.dir == 'nw'"}], "mark": {"type": "point", "shape": "M0,0L0.38,1L-0.38,1Z", "filled": true, "color": "#000000", "opacity": 1, "size": 400, "strokeWidth": 0, "angle": 314},
         "encoding": {"x": {"field": "x2", "type": "quantitative", "axis": null}, "y": {"field": "y2", "type": "quantitative", "axis": null}}},
        {"data": {"name": "ann"}, "transform": [{"filter": "datum.p == 'b'"}], "mark": {"type": "text", "font": "Liberation Serif", "fontSize": 18, "align": "center", "baseline": "alphabetic", "color": "#000000"},
         "encoding": {"x": {"field": "lx", "type": "quantitative", "axis": null}, "y": {"field": "ly", "type": "quantitative", "axis": null}, "text": {"field": "label"}}},
        {"data": {"name": "gnd"}, "mark": {"type": "rule", "color": "#000000", "strokeWidth": 1.3},
         "encoding": {"x": {"datum": -0.39, "type": "quantitative", "axis": null}, "x2": {"datum": -0.17}, "y": {"field": "ground", "type": "quantitative", "axis": null}}},
        {"data": {"name": "gnd"}, "mark": {"type": "point", "shape": "M0,0L-1,-0.6L-1,0.6Z", "filled": true, "color": "#000000", "opacity": 1, "size": 260, "strokeWidth": 0},
         "encoding": {"x": {"datum": -0.06, "type": "quantitative", "axis": null}, "y": {"field": "ground", "type": "quantitative", "axis": null}}},
        {"data": {"name": "gnd"}, "mark": {"type": "rule", "color": "#000000", "strokeWidth": 1.3},
         "encoding": {"x": {"datum": -0.39, "type": "quantitative", "axis": null}, "y": {"field": "ground", "type": "quantitative", "axis": null}, "y2": {"field": "ground"}, "y2Offset": {"value": 7}}},
        {"data": {"name": "gnd"}, "mark": {"type": "rule", "color": "#000000", "strokeWidth": 1.3},
         "encoding": {"x": {"datum": -0.61, "type": "quantitative", "axis": null}, "x2": {"datum": -0.16}, "y": {"field": "ground", "type": "quantitative", "axis": null}, "yOffset": {"value": 7}}},
        {"data": {"name": "gnd"}, "mark": {"type": "rule", "color": "#000000", "strokeWidth": 1.3},
         "encoding": {"x": {"datum": -0.53, "type": "quantitative", "axis": null}, "x2": {"datum": -0.24}, "y": {"field": "ground", "type": "quantitative", "axis": null}, "yOffset": {"value": 11}}},
        {"data": {"name": "gnd"}, "mark": {"type": "rule", "color": "#000000", "strokeWidth": 1.3},
         "encoding": {"x": {"datum": -0.45, "type": "quantitative", "axis": null}, "x2": {"datum": -0.32}, "y": {"field": "ground", "type": "quantitative", "axis": null}, "yOffset": {"value": 15}}}
      ]
    },
    {
      "width": 447, "height": 308,
      "layer": [
        {"data": {"name": "green_c"}, "mark": {"type": "line", "color": "#22b822", "strokeWidth": 2.2},
         "encoding": {"x": {"field": "x", "type": "quantitative", "scale": {"domain": [0, 10], "nice": false, "zero": false}, "axis": {"orient": "bottom", "values": [0,1,2,3,4,5,6,7,8,9,10], "grid": true, "titleFont": "Liberation Serif", "title": ["Time (100 ms/div)", "(c)"]}},
                      "y": {"field": "y", "type": "quantitative", "scale": {"domain": [0, 8], "nice": false, "zero": false}, "axis": {"orient": "left", "values": [0,1,2,3,4,5,6,7,8], "grid": true, "titleFont": "Liberation Serif", "title": "Clamping Force (17.5 kN/div)"}}}},
        {"data": {"name": "orange_c"}, "mark": {"type": "line", "color": "#ffa21a", "strokeWidth": 2.2},
         "encoding": {"x": {"field": "x", "type": "quantitative", "axis": null}, "y": {"field": "y", "type": "quantitative", "axis": null}}},
        {"data": {"name": "cyan_c"}, "mark": {"type": "line", "color": "#17bcbc", "strokeWidth": 1.8, "interpolate": "step-after"},
         "encoding": {"x": {"field": "x", "type": "quantitative", "axis": {"orient": "top", "values": [0,0.2,0.4,0.6,0.8,1,1.2,1.4,1.6,1.8,2,2.2,2.4,2.6,2.8,3,3.2,3.4,3.6,3.8,4,4.2,4.4,4.6,4.8,5,5.2,5.4,5.6,5.8,6,6.2,6.4,6.6,6.8,7,7.2,7.4,7.6,7.8,8,8.2,8.4,8.6,8.8,9,9.2,9.4,9.6,9.8,10], "grid": true, "title": null}},
                      "y": {"field": "y", "type": "quantitative", "axis": {"orient": "right", "values": [0,0.2,0.4,0.6,0.8,1,1.2,1.4,1.6,1.8,2,2.2,2.4,2.6,2.8,3,3.2,3.4,3.6,3.8,4,4.2,4.4,4.6,4.8,5,5.2,5.4,5.6,5.8,6,6.2,6.4,6.6,6.8,7,7.2,7.4,7.6,7.8,8], "grid": true, "titleFont": "Liberation Serif", "title": "Busbar Current (40 A/div)"}}}},
        {"data": {"name": "circ"}, "transform": [{"filter": "datum.p == 'c'"}], "mark": {"type": "point", "shape": "circle", "filled": false, "color": "#2a7dd1", "strokeWidth": 1.3, "strokeDash": [6, 4], "size": 3136, "opacity": 1},
         "encoding": {"x": {"field": "x", "type": "quantitative", "axis": null}, "y": {"field": "y", "type": "quantitative", "axis": null}}},
        {"data": {"name": "ann"}, "transform": [{"filter": "datum.p == 'c'"}], "mark": {"type": "rule", "color": "#000000", "strokeWidth": 1.4},
         "encoding": {"x": {"field": "x", "type": "quantitative", "axis": null}, "y": {"field": "y", "type": "quantitative", "axis": null}, "x2": {"field": "x2"}, "y2": {"field": "y2"}}},
        {"data": {"name": "ann"}, "transform": [{"filter": "datum.p == 'c' && datum.dir == 'ne'"}], "mark": {"type": "point", "shape": "M0,0L0.38,1L-0.38,1Z", "filled": true, "color": "#000000", "opacity": 1, "size": 400, "strokeWidth": 0, "angle": 38},
         "encoding": {"x": {"field": "x2", "type": "quantitative", "axis": null}, "y": {"field": "y2", "type": "quantitative", "axis": null}}},
        {"data": {"name": "ann"}, "transform": [{"filter": "datum.p == 'c' && datum.dir == 'nw'"}], "mark": {"type": "point", "shape": "M0,0L0.38,1L-0.38,1Z", "filled": true, "color": "#000000", "opacity": 1, "size": 400, "strokeWidth": 0, "angle": 314},
         "encoding": {"x": {"field": "x2", "type": "quantitative", "axis": null}, "y": {"field": "y2", "type": "quantitative", "axis": null}}},
        {"data": {"name": "ann"}, "transform": [{"filter": "datum.p == 'c'"}], "mark": {"type": "text", "font": "Liberation Serif", "fontSize": 18, "align": "center", "baseline": "alphabetic", "color": "#000000"},
         "encoding": {"x": {"field": "lx", "type": "quantitative", "axis": null}, "y": {"field": "ly", "type": "quantitative", "axis": null}, "text": {"field": "label"}}},
        {"data": {"name": "gnd"}, "mark": {"type": "rule", "color": "#000000", "strokeWidth": 1.3},
         "encoding": {"x": {"datum": -0.39, "type": "quantitative", "axis": null}, "x2": {"datum": -0.17}, "y": {"field": "ground", "type": "quantitative", "axis": null}}},
        {"data": {"name": "gnd"}, "mark": {"type": "point", "shape": "M0,0L-1,-0.6L-1,0.6Z", "filled": true, "color": "#000000", "opacity": 1, "size": 260, "strokeWidth": 0},
         "encoding": {"x": {"datum": -0.06, "type": "quantitative", "axis": null}, "y": {"field": "ground", "type": "quantitative", "axis": null}}},
        {"data": {"name": "gnd"}, "mark": {"type": "rule", "color": "#000000", "strokeWidth": 1.3},
         "encoding": {"x": {"datum": -0.39, "type": "quantitative", "axis": null}, "y": {"field": "ground", "type": "quantitative", "axis": null}, "y2": {"field": "ground"}, "y2Offset": {"value": 7}}},
        {"data": {"name": "gnd"}, "mark": {"type": "rule", "color": "#000000", "strokeWidth": 1.3},
         "encoding": {"x": {"datum": -0.61, "type": "quantitative", "axis": null}, "x2": {"datum": -0.16}, "y": {"field": "ground", "type": "quantitative", "axis": null}, "yOffset": {"value": 7}}},
        {"data": {"name": "gnd"}, "mark": {"type": "rule", "color": "#000000", "strokeWidth": 1.3},
         "encoding": {"x": {"datum": -0.53, "type": "quantitative", "axis": null}, "x2": {"datum": -0.24}, "y": {"field": "ground", "type": "quantitative", "axis": null}, "yOffset": {"value": 11}}},
        {"data": {"name": "gnd"}, "mark": {"type": "rule", "color": "#000000", "strokeWidth": 1.3},
         "encoding": {"x": {"datum": -0.45, "type": "quantitative", "axis": null}, "x2": {"datum": -0.32}, "y": {"field": "ground", "type": "quantitative", "axis": null}, "yOffset": {"value": 15}}}
      ]
    },
    {
      "width": 447, "height": 308,
      "layer": [
        {"data": {"name": "green_d"}, "mark": {"type": "line", "color": "#22b822", "strokeWidth": 2.2},
         "encoding": {"x": {"field": "x", "type": "quantitative", "scale": {"domain": [0, 10], "nice": false, "zero": false}, "axis": {"orient": "bottom", "values": [0,1,2,3,4,5,6,7,8,9,10], "grid": true, "titleFont": "Liberation Serif", "title": ["Time (100 ms/div)", "(d)"]}},
                      "y": {"field": "y", "type": "quantitative", "scale": {"domain": [0, 8], "nice": false, "zero": false}, "axis": {"orient": "left", "values": [0,1,2,3,4,5,6,7,8], "grid": true, "titleFont": "Liberation Serif", "title": "Clamping Force (17.5 kN/div)"}}}},
        {"data": {"name": "orange_d"}, "mark": {"type": "line", "color": "#ffa21a", "strokeWidth": 2.2},
         "encoding": {"x": {"field": "x", "type": "quantitative", "axis": null}, "y": {"field": "y", "type": "quantitative", "axis": null}}},
        {"data": {"name": "cyan_d"}, "mark": {"type": "line", "color": "#17bcbc", "strokeWidth": 1.8, "interpolate": "step-after"},
         "encoding": {"x": {"field": "x", "type": "quantitative", "axis": {"orient": "top", "values": [0,0.2,0.4,0.6,0.8,1,1.2,1.4,1.6,1.8,2,2.2,2.4,2.6,2.8,3,3.2,3.4,3.6,3.8,4,4.2,4.4,4.6,4.8,5,5.2,5.4,5.6,5.8,6,6.2,6.4,6.6,6.8,7,7.2,7.4,7.6,7.8,8,8.2,8.4,8.6,8.8,9,9.2,9.4,9.6,9.8,10], "grid": true, "title": null}},
                      "y": {"field": "y", "type": "quantitative", "axis": {"orient": "right", "values": [0,0.2,0.4,0.6,0.8,1,1.2,1.4,1.6,1.8,2,2.2,2.4,2.6,2.8,3,3.2,3.4,3.6,3.8,4,4.2,4.4,4.6,4.8,5,5.2,5.4,5.6,5.8,6,6.2,6.4,6.6,6.8,7,7.2,7.4,7.6,7.8,8], "grid": true, "titleFont": "Liberation Serif", "title": "Busbar Current (40 A/div)"}}}},
        {"data": {"name": "circ"}, "transform": [{"filter": "datum.p == 'd'"}], "mark": {"type": "point", "shape": "circle", "filled": false, "color": "#2a7dd1", "strokeWidth": 1.3, "strokeDash": [6, 4], "size": 3136, "opacity": 1},
         "encoding": {"x": {"field": "x", "type": "quantitative", "axis": null}, "y": {"field": "y", "type": "quantitative", "axis": null}}},
        {"data": {"name": "ann"}, "transform": [{"filter": "datum.p == 'd'"}], "mark": {"type": "rule", "color": "#000000", "strokeWidth": 1.4},
         "encoding": {"x": {"field": "x", "type": "quantitative", "axis": null}, "y": {"field": "y", "type": "quantitative", "axis": null}, "x2": {"field": "x2"}, "y2": {"field": "y2"}}},
        {"data": {"name": "ann"}, "transform": [{"filter": "datum.p == 'd' && datum.dir == 'ne'"}], "mark": {"type": "point", "shape": "M0,0L0.38,1L-0.38,1Z", "filled": true, "color": "#000000", "opacity": 1, "size": 400, "strokeWidth": 0, "angle": 38},
         "encoding": {"x": {"field": "x2", "type": "quantitative", "axis": null}, "y": {"field": "y2", "type": "quantitative", "axis": null}}},
        {"data": {"name": "ann"}, "transform": [{"filter": "datum.p == 'd' && datum.dir == 'nw'"}], "mark": {"type": "point", "shape": "M0,0L0.38,1L-0.38,1Z", "filled": true, "color": "#000000", "opacity": 1, "size": 400, "strokeWidth": 0, "angle": 314},
         "encoding": {"x": {"field": "x2", "type": "quantitative", "axis": null}, "y": {"field": "y2", "type": "quantitative", "axis": null}}},
        {"data": {"name": "ann"}, "transform": [{"filter": "datum.p == 'd'"}], "mark": {"type": "text", "font": "Liberation Serif", "fontSize": 18, "align": "center", "baseline": "alphabetic", "color": "#000000"},
         "encoding": {"x": {"field": "lx", "type": "quantitative", "axis": null}, "y": {"field": "ly", "type": "quantitative", "axis": null}, "text": {"field": "label"}}},
        {"data": {"name": "gnd"}, "mark": {"type": "rule", "color": "#000000", "strokeWidth": 1.3},
         "encoding": {"x": {"datum": -0.39, "type": "quantitative", "axis": null}, "x2": {"datum": -0.17}, "y": {"field": "ground", "type": "quantitative", "axis": null}}},
        {"data": {"name": "gnd"}, "mark": {"type": "point", "shape": "M0,0L-1,-0.6L-1,0.6Z", "filled": true, "color": "#000000", "opacity": 1, "size": 260, "strokeWidth": 0},
         "encoding": {"x": {"datum": -0.06, "type": "quantitative", "axis": null}, "y": {"field": "ground", "type": "quantitative", "axis": null}}},
        {"data": {"name": "gnd"}, "mark": {"type": "rule", "color": "#000000", "strokeWidth": 1.3},
         "encoding": {"x": {"datum": -0.39, "type": "quantitative", "axis": null}, "y": {"field": "ground", "type": "quantitative", "axis": null}, "y2": {"field": "ground"}, "y2Offset": {"value": 7}}},
        {"data": {"name": "gnd"}, "mark": {"type": "rule", "color": "#000000", "strokeWidth": 1.3},
         "encoding": {"x": {"datum": -0.61, "type": "quantitative", "axis": null}, "x2": {"datum": -0.16}, "y": {"field": "ground", "type": "quantitative", "axis": null}, "yOffset": {"value": 7}}},
        {"data": {"name": "gnd"}, "mark": {"type": "rule", "color": "#000000", "strokeWidth": 1.3},
         "encoding": {"x": {"datum": -0.53, "type": "quantitative", "axis": null}, "x2": {"datum": -0.24}, "y": {"field": "ground", "type": "quantitative", "axis": null}, "yOffset": {"value": 11}}},
        {"data": {"name": "gnd"}, "mark": {"type": "rule", "color": "#000000", "strokeWidth": 1.3},
         "encoding": {"x": {"datum": -0.45, "type": "quantitative", "axis": null}, "x2": {"datum": -0.32}, "y": {"field": "ground", "type": "quantitative", "axis": null}, "yOffset": {"value": 15}}}
      ]
    }
  ]
}
